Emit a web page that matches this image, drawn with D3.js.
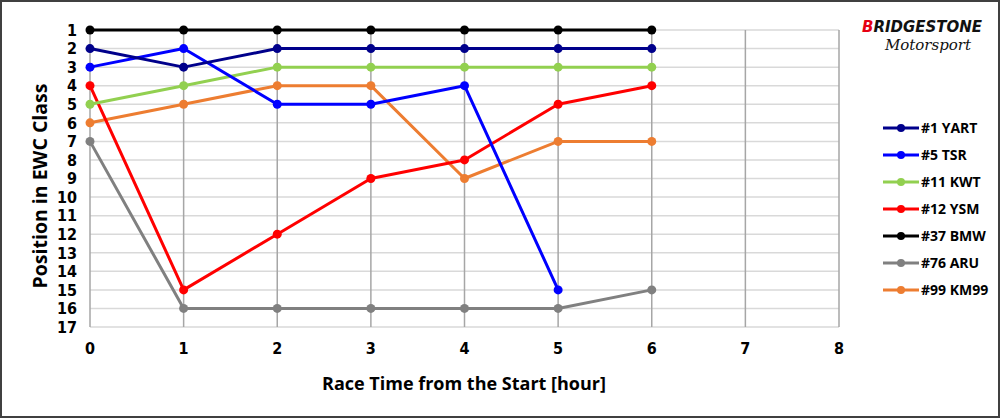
<!DOCTYPE html>
<html>
<head>
<meta charset="utf-8">
<script src="https://cdn.jsdelivr.net/npm/d3@7"></script>
<style>
  body { margin: 0; background: #fff; }
  svg { display: block; }
</style>
</head>
<body>
<div id="chart"></div>
<script>
// Data
const hours = [0, 1, 2, 3, 4, 5, 6];
const teams = ["#1 YART", "#5 TSR", "#11 KWT", "#12 YSM", "#37 BMW", "#76 ARU", "#99 KM99"];
const colors = ["#00008b", "#0000ff", "#92d050", "#ff0000", "#000000", "#808080", "#ed7d31"];
const pos_YART = [2, 3, 2, 2, 2, 2, 2];
const pos_TSR = [3, 2, 5, 5, 4, 15];
const pos_KWT = [5, 4, 3, 3, 3, 3, 3];
const pos_YSM = [4, 15, 12, 9, 8, 5, 4];
const pos_BMW = [1, 1, 1, 1, 1, 1, 1];
const pos_ARU = [7, 16, 16, 16, 16, 16, 15];
const pos_KM99 = [6, 5, 4, 4, 9, 7, 7];
const xTicks = [0, 1, 2, 3, 4, 5, 6, 7, 8];
const yTicks = d3.range(1, 18);

const series = [pos_YART, pos_TSR, pos_KWT, pos_YSM, pos_BMW, pos_ARU, pos_KM99]
    .map((vals, i) => ({ name: teams[i], color: colors[i], values: vals.map((v, j) => ({ h: hours[j], p: v })) }));

const W = 1000, H = 418;
const svg = d3.select("#chart").append("svg").attr("width", W).attr("height", H);

// outer border
svg.append("rect").attr("x", 1).attr("y", 1).attr("width", W - 2).attr("height", H - 2)
    .attr("fill", "#fff").attr("stroke", "#404040").attr("stroke-width", 2);

const x = d3.scaleLinear().domain([0, 8]).range([90, 839]);
const y = d3.scaleLinear().domain([1, 17]).range([30, 327]);

// horizontal grid
svg.append("g").selectAll("line").data(yTicks).join("line")
    .attr("x1", x(0)).attr("x2", x(8))
    .attr("y1", d => y(d)).attr("y2", d => y(d))
    .attr("stroke", "#d9d9d9").attr("stroke-width", 1.5);

// vertical grid
svg.append("g").selectAll("line").data(xTicks).join("line")
    .attr("x1", d => x(d)).attr("x2", d => x(d))
    .attr("y1", y(1)).attr("y2", y(17))
    .attr("stroke", "#a6a6a6").attr("stroke-width", 1.5);

// tick labels
const tickFont = "'Liberation Sans Narrow', 'DejaVu Sans Condensed', sans-serif";
svg.append("g").selectAll("text").data(yTicks).join("text")
    .attr("x", 77).attr("y", d => y(d)).attr("dy", "0.36em")
    .attr("text-anchor", "end")
    .style("font-family", tickFont).style("font-weight", "bold").style("font-size", "16px")
    .text(d => d);

svg.append("g").selectAll("text").data(xTicks).join("text")
    .attr("x", d => x(d)).attr("y", 354)
    .attr("text-anchor", "middle")
    .style("font-family", tickFont).style("font-weight", "bold").style("font-size", "16px")
    .text(d => d);

// axis titles
svg.append("text")
    .attr("transform", "translate(40, 186) rotate(-90)")
    .attr("text-anchor", "middle").attr("dy", "0.35em")
    .style("font-family", "'Open Sans', sans-serif").style("font-weight", "bold").style("font-size", "19.5px")
    .text("Position in EWC Class");

svg.append("text")
    .attr("x", 464).attr("y", 390)
    .attr("text-anchor", "middle")
    .style("font-family", "'Open Sans', sans-serif").style("font-weight", "bold").style("font-size", "18px")
    .text("Race Time from the Start [hour]");

// lines
const line = d3.line().x(d => x(d.h)).y(d => y(d.p));
const drawOrder = [6, 5, 4, 3, 2, 1, 0];
drawOrder.forEach(i => {
    const s = series[i];
    const g = svg.append("g");
    g.append("path").datum(s.values)
        .attr("d", line).attr("fill", "none")
        .attr("stroke", s.color).attr("stroke-width", 3).attr("stroke-linejoin", "round");
    g.selectAll("circle").data(s.values).join("circle")
        .attr("cx", d => x(d.h)).attr("cy", d => y(d.p)).attr("r", 4.5)
        .attr("fill", s.color);
});

// legend
const legend = svg.append("g").selectAll("g").data(series).join("g")
    .attr("transform", (d, i) => `translate(883, ${128 + i * 27})`);
legend.append("line").attr("x1", 0).attr("x2", 36)
    .attr("stroke", d => d.color).attr("stroke-width", 3);
legend.append("circle").attr("cx", 18).attr("r", 4).attr("fill", d => d.color);
legend.append("text").attr("x", 38).attr("dy", "0.36em")
    .style("font-family", "'Open Sans', sans-serif").style("font-weight", "bold").style("font-size", "14px")
    .text(d => d.name);

// logo
const logo = svg.append("g");
logo.append("text").attr("x", 922).attr("y", 32).attr("text-anchor", "middle")
    .style("font-family", "'DejaVu Sans', sans-serif").style("font-weight", "bold")
    .style("font-style", "italic").style("font-size", "16px").attr("textLength", 120)
    .attr("lengthAdjust", "spacingAndGlyphs")
    .html('<tspan fill="#e60012">B</tspan><tspan fill="#111">RIDGESTONE</tspan>');
logo.append("text").attr("x", 928).attr("y", 50).attr("text-anchor", "middle")
    .style("font-family", "'DejaVu Serif', serif").style("font-style", "italic")
    .style("font-size", "15px").attr("fill", "#111")
    .text("Motorsport");
</script>
</body>
</html>
